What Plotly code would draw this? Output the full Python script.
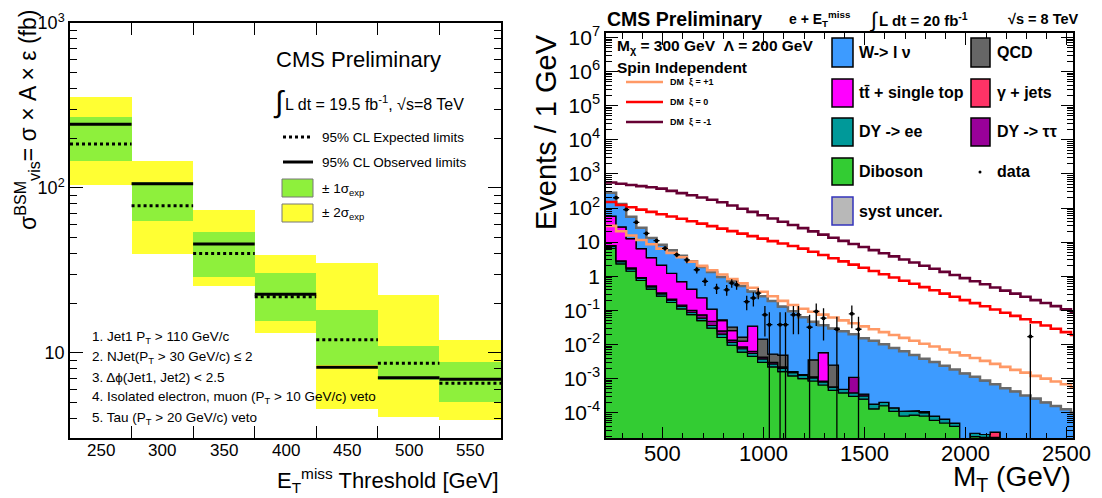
import numpy as np
import plotly.graph_objects as go

# the page body has an 8px margin; screen pixel (X, Y) -> paper (X-8, Y-8)
OFF = 8
W_PX, H_PX = 1102 - OFF, 498 - OFF
def px(x):
    return (x - OFF) / W_PX
def py(y):
    return 1 - (y - OFF) / H_PX

FONT = "Liberation Sans, Arial, Helvetica, sans-serif"

# ---------------- Left panel data ----------------
thresholds = [250, 300, 350, 400, 450, 500, 550]
observed = [243, 106, 45.7, 22.7, 8.2, 7.07, 6.92]
expected = [185, 78, 40, 21.9, 12, 8.65, 6.55]
band1_lo = [146, 63, 29, 15.6, 8.5, 6.9, 5.07]
band1_hi = [269, 108, 54, 30.4, 18.2, 11, 8.85]
band2_lo = [104, 40, 25.5, 13.2, 4.56, 4.07, 3.93]
band2_hi = [357, 145, 74, 39, 35, 22.5, 11.9]
bin_width = 50
cuts = ["1. Jet1 P<sub>T</sub> > 110 GeV/c",
        "2. NJet(P<sub>T</sub> > 30 GeV/c) ≤ 2",
        "3. Δϕ(Jet1, Jet2) < 2.5",
        "4. Isolated electron, muon (P<sub>T</sub> > 10 GeV/c) veto",
        "5. Tau (P<sub>T</sub> > 20 GeV/c) veto"]

# ---------------- Right panel data ----------------
mt_edges = list(range(220, 2571, 50))
mt_ticks = [500, 1000, 1500, 2000, 2500]
w_lnu = [224, 104, 43, 19.9, 9.7, 6.2, 4.55, 3.29, 2.33, 1.63, 1.22, 0.90, 0.68, 0.50, 0.32,
         0.243, 0.184, 0.124, 0.093, 0.0615, 0.043, 0.031, 0.027, 0.024, 0.019, 0.015, 0.0127,
         0.0099, 0.0078, 0.0062, 0.0048, 0.0037, 0.0030, 0.0023, 0.0018, 0.0014, 0.0011, 0.00085,
         0.00066, 0.00052, 0.00042, 0.00032, 0.00026, 0.00020, 0.000158, 0.000126, 0.000100]
diboson = [6.5, 2.3, 1.4, 0.75, 0.42, 0.26, 0.17, 0.11, 0.075, 0.050, 0.030, 0.016, 0.0095, 0.0060,
           0.0045, 0.0030, 0.0022, 0.0016, 0.0012, 0.0010, 0.00085, 0.00065, 0.00045, 0.00038,
           0.00030, 0.00025, 0.00013, 0.00016, 0.00011, 0.00008, 0.000085, 0.00008, 0.00006,
           0.00005, 0.00004, 0.000012, 0.00002, 0.000019, 0.000016, 0, 0, 0, 0, 0, 0, 0, 0]
dy_ee = [1.0, 0.4, 0.25, 0.12, 0.07, 0.045, 0.03, 0.02, 0.013, 0.009, 0.006, 0.004, 0.002, 0.0015,
         0.001, 0.0008, 0.0005, 0.0004, 0.0003, 0.00025, 0.0002, 0.00015, 0.00012, 0.0001, 0.00008,
         0.00006, 0.00005, 0.00004, 0.00003, 0.00003, 0.00003, 0.00002, 0.00002, 0.000015, 0.00001,
         0.000005, 0.000005, 0.000004, 0.000003, 0, 0, 0, 0, 0, 0, 0, 0]
dy_tautau = [0.4, 0.15, 0.1, 0.05, 0.03, 0.02, 0.015, 0.012, 0.012, 0.015, 0.012, 0.005, 0.002,
             0.001, 0.0008, 0.0005, 0.0003, 0.0002, 0.0001, 0.00005, 0.00008, 0.00005, 0, 0,
             0.0007, 0.00004, 0, 0, 0, 0, 0, 0, 0, 0, 0, 0, 0, 0, 0, 0, 0, 0, 0, 0, 0, 0, 0]
gamma_jets = [0, 0, 0, 0, 0, 0, 0, 0, 0, 0, 0, 0, 0, 0, 0, 0, 0, 0, 0, 0, 0, 0, 0, 0, 0, 0, 0, 0,
              0, 0, 0, 0.000008, 0, 0, 0, 0, 0, 0, 0.000008, 0, 0, 0, 0, 0, 0, 0, 0]
ttbar = [50, 25, 11, 5.5, 3.0, 1.8, 1.0, 0.55, 0.32, 0.16, 0.06, 0.025, 0.012, 0.004, 0.028,
         0, 0, 0, 0, 0, 0, 0.0049, 0, 0, 0, 0, 0, 0, 0, 0, 0, 0, 0, 0, 0, 0, 0, 0, 0, 0, 0,
         0, 0, 0, 0, 0, 0]
qcd = [0, 0, 0, 0, 0, 0, 0, 0, 0, 0, 0, 0.003, 0.007, 0.004, 0, 0.010, 0.0022, 0.0027, 0, 0,
       0.0024, 0, 0.0019, 0, 0, 0, 0, 0, 0, 0, 0, 0, 0, 0, 0, 0, 0, 0, 0, 0, 0, 0, 0, 0, 0, 0, 0]
dm_m1 = [560, 512, 474, 439, 406, 371, 319, 274, 236, 203, 174, 148, 119, 95, 77, 61.5, 49.4, 39.7,
         31.9, 25.7, 20.6, 16.6, 13.5, 10.9, 8.86, 7.18, 5.82, 4.72, 3.83, 3.10, 2.52, 2.04, 1.66,
         1.34, 1.09, 0.88, 0.71, 0.58, 0.47, 0.38, 0.31, 0.25, 0.20, 0.164, 0.133, 0.108, 0.088]
dm_0 = [150, 123, 105, 90, 77, 65.9, 56.4, 48.3, 41.1, 34.8, 29.4, 24.8, 21.0, 17.8, 15.0, 12.7,
        10.7, 9.08, 7.69, 6.47, 5.21, 4.20, 3.38, 2.72, 2.19, 1.77, 1.42, 1.15, 0.92, 0.74, 0.60,
        0.48, 0.39, 0.31, 0.25, 0.20, 0.163, 0.132, 0.106, 0.085, 0.069, 0.055, 0.045, 0.036,
        0.029, 0.023, 0.019]
dm_p1 = [30, 20.8, 15.6, 11.6, 8.67, 6.47, 4.83, 3.61, 2.69, 2.01, 1.50, 1.12, 0.83, 0.62, 0.46,
         0.35, 0.26, 0.19, 0.144, 0.111, 0.091, 0.075, 0.062, 0.051, 0.042, 0.034, 0.028, 0.023,
         0.019, 0.0156, 0.0128, 0.0105, 0.0087, 0.0071, 0.0058, 0.0048, 0.0040, 0.0033, 0.0027,
         0.0022, 0.0018, 0.0015, 0.0012, 0.0010, 0.00082, 0.00068, 0.00056]
data_mt = [270, 320, 370, 420, 470, 512, 570, 620, 669, 710, 767, 817, 842, 866, 916, 949, 973,
           1006, 1028, 1081, 1108, 1147, 1172, 1227, 1260, 1296, 1362, 1436, 1469, 2319]
data_val = [200, 90, 38, 18, 11, 6.6, 4.3, 3.0, 1.55, 0.71, 0.45, 0.40, 0.63, 0.56, 0.18, 0.23,
            0.32, 0.074, 0.038, 0.038, 0.038, 0.074, 0.074, 0.032, 0.093, 0.059, 0.028, 0.079,
            0.028, 0.017]
data_up = [215, 98, 42, 20, 12.5, 7.6, 5.0, 3.6, 1.9, 0.9, 0.6, 0.55, 0.82, 0.74, 0.27, 0.34,
           0.45, 0.135, 0.088, 0.088, 0.088, 0.135, 0.135, 0.075, 0.16, 0.115, 0.065, 0.14,
           0.065, 0.04]
data_dn = [185, 82, 34, 16, 9.5, 5.6, 3.6, 2.4, 1.2, 0.52, 0.30, 0.27, 0.46, 0.40, 0.10, 0.13,
           0.21, 0.017, 1e-9, 1e-9, 1e-9, 0.02, 0.02, 1e-9, 0.035, 0.013, 1e-9, 0.03, 1e-9, 1e-9]

nb = len(mt_edges) - 1
for arr in [w_lnu, diboson, dy_ee, dy_tautau, gamma_jets, ttbar, qcd, dm_m1, dm_0, dm_p1]:
    assert len(arr) == nb, len(arr)

C_W, C_QCD, C_TT, C_GJ = "#3d9bff", "#666666", "#ff00ff", "#ff3366"
C_DYEE, C_DYTT, C_DIB = "#009999", "#990099", "#33cc33"
C_P1, C_0, C_M1 = "#ff9966", "#ff0000", "#660033"
C_YEL, C_GRN = "#ffff33", "#8ef03c"

fig = go.Figure()

# ---- left panel ----
fig.add_trace(go.Bar(x=thresholds, y=np.array(band2_hi) - np.array(band2_lo), base=band2_lo,
                     width=bin_width, marker=dict(color=C_YEL, line=dict(width=0)),
                     xaxis="x", yaxis="y", showlegend=False))
fig.add_trace(go.Bar(x=thresholds, y=np.array(band1_hi) - np.array(band1_lo), base=band1_lo,
                     width=bin_width, marker=dict(color=C_GRN, line=dict(width=0)),
                     xaxis="x", yaxis="y", showlegend=False))

def hsegs(centers, vals, half):
    xs, ys = [], []
    for c, v in zip(centers, vals):
        xs += [c - half, c + half, None]
        ys += [v, v, None]
    return xs, ys

xs, ys = hsegs(thresholds, expected, bin_width / 2)
fig.add_trace(go.Scatter(x=xs, y=ys, mode="lines", line=dict(color="black", width=3, dash="dot"),
                         xaxis="x", yaxis="y", showlegend=False))
xs, ys = hsegs(thresholds, observed, bin_width / 2)
fig.add_trace(go.Scatter(x=xs, y=ys, mode="lines", line=dict(color="black", width=3),
                         xaxis="x", yaxis="y", showlegend=False))

# ---- right panel ----
edges = np.array(mt_edges, dtype=float)
step_x = np.repeat(edges, 2)[1:-1]
floor = 1e-8
layers = [(diboson, C_DIB), (dy_ee, C_DYEE), (dy_tautau, C_DYTT), (gamma_jets, C_GJ),
          (ttbar, C_TT), (qcd, C_QCD), (w_lnu, C_W)]
cum = np.zeros(nb)
for vals, col in layers:
    lower = cum.copy()
    cum = cum + np.array(vals, dtype=float)
    yu = np.repeat(np.maximum(cum, floor), 2)
    yl = np.repeat(np.maximum(lower, floor), 2)
    fig.add_trace(go.Scatter(x=np.concatenate([step_x, step_x[::-1]]),
                             y=np.concatenate([yu, yl[::-1]]),
                             mode="lines", fill="toself", fillcolor=col,
                             line=dict(color="black", width=1.2),
                             xaxis="x2", yaxis="y2", showlegend=False, hoverinfo="skip"))
# syst uncertainty on total
fig.add_trace(go.Scatter(x=step_x, y=np.repeat(cum, 2), mode="lines",
                         line=dict(color="#6a6a6a", width=2.5),
                         xaxis="x2", yaxis="y2", showlegend=False))
for vals, col in [(dm_p1, C_P1), (dm_0, C_0), (dm_m1, C_M1)]:
    fig.add_trace(go.Scatter(x=step_x, y=np.repeat(np.array(vals, dtype=float), 2), mode="lines",
                             line=dict(color=col, width=2.6),
                             xaxis="x2", yaxis="y2", showlegend=False))
dv = np.array(data_val)
fig.add_trace(go.Scatter(x=data_mt, y=data_val, mode="markers",
                         marker=dict(color="black", size=4),
                         error_y=dict(type="data", symmetric=False,
                                      array=np.array(data_up) - dv,
                                      arrayminus=dv - np.array(data_dn),
                                      color="black", thickness=1.3, width=0),
                         error_x=dict(type="constant", value=15, color="black",
                                      thickness=1.3, width=0),
                         xaxis="x2", yaxis="y2", showlegend=False))

# ---- axes ----
def minor_log(lo_exp, hi_exp):
    out = []
    for e in range(lo_exp, hi_exp):
        for k in range(2, 10):
            out.append(k * 10.0 ** e)
    return out

axis_common = dict(showline=True, linecolor="black", linewidth=1.5, mirror="allticks",
                   showgrid=False, zeroline=False, tickcolor="black", automargin=False)

L_X0, L_X1, L_Y0, L_Y1 = 70, 501, 23, 438
R_X0, R_X1, R_Y0, R_Y1 = 606, 1073, 33, 438.3

edges_left = [t + bin_width / 2 for t in thresholds[:-1]]

fig.update_layout(
    width=W_PX, height=H_PX, margin=dict(l=0, r=0, t=0, b=0, pad=0, autoexpand=False),
    paper_bgcolor="white", plot_bgcolor="white", barmode="overlay", bargap=0,
    font=dict(family=FONT, color="black"),
    xaxis=dict(domain=[px(L_X0), px(L_X1)], anchor="y", range=[225, 575],
               tickvals=thresholds, ticks="", showticklabels=False,
               minor=dict(tickmode="array", tickvals=edges_left, ticks="inside", ticklen=12,
                          tickcolor="black", tickwidth=1.2),
               **axis_common),
    yaxis=dict(domain=[py(L_Y1), py(L_Y0)], anchor="x", type="log",
               range=[np.log10(3.05), 3],
               tickvals=[10, 100, 1000], ticktext=["10", "10<sup>2</sup>", "10<sup>3</sup>"],
               ticks="inside", ticklen=13, tickwidth=1.2,
               tickfont=dict(size=18, family=FONT, color="black"),
               minor=dict(tickmode="array", tickvals=minor_log(0, 3), ticks="inside", ticklen=7,
                          tickcolor="black", tickwidth=1.1),
               **axis_common),
    xaxis2=dict(domain=[px(R_X0), px(R_X1)], anchor="y2", range=[220, 2530],
                tickvals=mt_ticks, ticks="inside", ticklen=12, tickwidth=1.3,
                showticklabels=False,
                minor=dict(tickmode="array", tickvals=[v for v in range(300, 2530, 100) if v % 500],
                           ticks="inside", ticklen=6, tickcolor="black", tickwidth=1.1),
                **axis_common),
    yaxis2=dict(domain=[py(R_Y1), py(R_Y0)], anchor="x2", type="log", range=[-4.75, 7.13],
                tickvals=[1e-4, 1e-3, 1e-2, 1e-1, 1, 10, 1e2, 1e3, 1e4, 1e5, 1e6, 1e7],
                ticktext=["10<sup>-4</sup>", "10<sup>-3</sup>", "10<sup>-2</sup>", "10<sup>-1</sup>",
                          "1", "10", "10<sup>2</sup>", "10<sup>3</sup>", "10<sup>4</sup>",
                          "10<sup>5</sup>", "10<sup>6</sup>", "10<sup>7</sup>"],
                ticks="inside", ticklen=12, tickwidth=1.3,
                tickfont=dict(size=21, family=FONT, color="black"),
                minor=dict(tickmode="array", tickvals=minor_log(-5, 7), ticks="inside", ticklen=6,
                           tickcolor="black", tickwidth=1.0),
                **axis_common),
)

anns = []
def ann(text, x, y, size, xanchor="left", yanchor="middle", bold=False, angle=0, color="black"):
    if bold:
        text = "<b>" + text + "</b>"
    anns.append(dict(text=text, x=px(x), y=py(y), xref="paper", yref="paper",
                     xanchor=xanchor, yanchor=yanchor, showarrow=False, textangle=angle,
                     font=dict(size=size, family=FONT, color=color)))

# x tick labels placed on the data axes
for t in thresholds:
    anns.append(dict(text=str(t), x=t, xref="x", y=py(450), yref="paper", showarrow=False,
                     xanchor="center", yanchor="middle",
                     font=dict(size=17, family=FONT, color="black")))
for t in mt_ticks:
    anns.append(dict(text=str(t), x=t, xref="x2", y=py(453), yref="paper", showarrow=False,
                     xanchor="center", yanchor="middle",
                     font=dict(size=22, family=FONT, color="black")))

shapes = []
def rect(x0, y0, x1, y1, fill, line="black", lw=1):
    shapes.append(dict(type="rect", xref="paper", yref="paper", x0=px(x0), x1=px(x1),
                       y0=py(y1), y1=py(y0), fillcolor=fill, line=dict(color=line, width=lw)))
def hline(x0, x1, y, color, width, dash="solid"):
    shapes.append(dict(type="line", xref="paper", yref="paper", x0=px(x0), x1=px(x1),
                       y0=py(y), y1=py(y), line=dict(color=color, width=width, dash=dash)))

# left panel texts
ann("CMS Preliminary", 274, 59, 22)
ann("∫", 271, 102, 30)
ann("L dt = 19.5 fb<sup>-1</sup>, √s=8 TeV", 283, 103, 16)
hline(283, 313, 137, "black", 3, "dot")
ann("95% CL Expected limits", 320, 137, 13.5)
hline(283, 313, 162, "black", 3)
ann("95% CL Observed limits", 320, 162, 13.5)
rect(282, 179, 313, 197, C_GRN, "#777", 1)
ann("± 1σ<sub>exp</sub>", 320, 189, 13.5)
rect(282, 204, 313, 222, C_YEL, "#777", 1)
ann("± 2σ<sub>exp</sub>", 320, 214, 13.5)
for i, c in enumerate(cuts):
    ann(c, 90, 337 + i * 20.3, 13.5)
ann("σ<sup>BSM</sup><sub>vis</sub>= σ × A × ε (fb)", 27, 8, 23, xanchor="center", yanchor="top", angle=-90)
ann("E<sub>T</sub><sup>miss</sup> Threshold [GeV]", 501, 498, 22, xanchor="right", yanchor="bottom")

# right panel texts
ann("CMS Preliminary", 605, 19, 19.5, bold=True)
ann("e + E<sub>T</sub><sup>miss</sup>", 787, 19, 14, bold=True)
ann("∫", 868, 20, 21)
ann("L dt = 20 fb<sup>-1</sup>", 877, 19, 15, bold=True)
ann("√s = 8 TeV", 1006, 19, 14.5, bold=True)
ann("M<sub>χ</sub> = 300 GeV  Λ = 200 GeV", 615, 47, 15.5, bold=True)
ann("Spin Independent", 615, 67, 15.5, bold=True)
for (lab, col, yy) in [("DM  ξ = +1", C_P1, 82), ("DM  ξ = 0", C_0, 102), ("DM  ξ = -1", C_M1, 122)]:
    hline(626, 663, yy, col, 2.5)
    ann(lab, 668, yy, 9, bold=True)
rows = [(38, 67), (79, 107), (118, 146), (158, 185), (197, 225)]
leg1 = [("W-> l ν", C_W), ("tt̄ + single top", C_TT), ("DY -> ee", C_DYEE), ("Diboson", C_DIB)]
leg2 = [("QCD", C_QCD), ("γ + jets", C_GJ), ("DY -> ττ", C_DYTT)]
for (lab, col), (y0, y1) in zip(leg1, rows):
    rect(832, y0, 853, y1, col, "black", 1.5)
    ann(lab, 857, (y0 + y1) / 2, 16, bold=True)
for (lab, col), (y0, y1) in zip(leg2, rows):
    rect(971, y0, 990, y1, col, "black", 1.5)
    ann(lab, 995, (y0 + y1) / 2, 16, bold=True)
shapes.append(dict(type="circle", xref="paper", yref="paper", x0=px(978.5), x1=px(981.5),
                   y0=py(173.5), y1=py(170.5), fillcolor="black", line=dict(width=0)))
ann("data", 995, 171.5, 16, bold=True)
rect(832, 197, 853, 225, "#b8b8b8", "#3333bb", 1.5)
ann("syst uncer.", 857, 211, 16, bold=True)
ann("Events / 1 GeV", 546, 32, 29, xanchor="center", yanchor="top", angle=-90)
ann("M<sub>T</sub> (GeV)", 1073, 498, 28, xanchor="right", yanchor="bottom")

fig.update_layout(annotations=anns, shapes=shapes)
fig.write_html("out.html")
